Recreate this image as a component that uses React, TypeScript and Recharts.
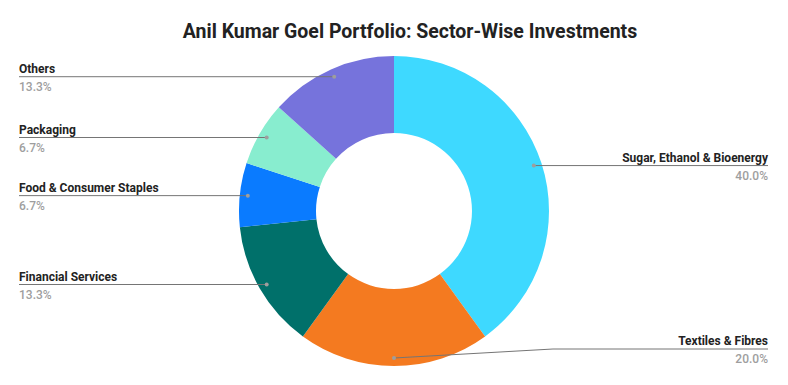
import React from 'react';
import { PieChart, Pie, Cell } from 'recharts';

const categories = [
  'Sugar, Ethanol & Bioenergy',
  'Textiles & Fibres',
  'Financial Services',
  'Food & Consumer Staples',
  'Packaging',
  'Others',
];
const holdings = [6, 3, 2, 1, 1, 2];
const colors = ['#3ED9FF', '#F47A20', '#00706A', '#0A7BFF', '#88EDCF', '#7673DC'];
const title = 'Anil Kumar Goel Portfolio: Sector-Wise Investments';

const data = categories.map((c, i) => ({ name: c, value: holdings[i] }));
const total = holdings.reduce((a, b) => a + b, 0);

const W = 788;
const H = 385;
const FONT = 'Roboto, "Noto Sans", Arial, sans-serif';

const renderLabel = (props: any) => {
  const { cx, cy, midAngle, outerRadius, index } = props;
  const RAD = Math.PI / 180;
  const r = outerRadius - 8;
  const cos = Math.cos(-midAngle * RAD);
  const sin = Math.sin(-midAngle * RAD);
  const px = cx + r * cos;
  const py = cy + r * sin;
  const right = cos > -0.01;
  const ly = Math.min(py, H - 36);
  const edgeX = right ? W - 20 : 19;
  const bendX = right ? cx + outerRadius + 4 : cx - outerRadius - 4;
  const pts =
    Math.abs(ly - py) < 0.5
      ? `${px},${py} ${edgeX},${ly}`
      : `${px},${py} ${bendX},${ly} ${edgeX},${ly}`;
  const pct = ((holdings[index] / total) * 100).toFixed(1) + '%';
  const anchor = right ? 'end' : 'start';
  return (
    <g key={`lbl-${index}`}>
      <polyline points={pts} fill="none" stroke="#757575" strokeWidth={1} />
      <circle cx={px} cy={py} r={2} fill="#9E9E9E" />
      <text x={edgeX} y={ly - 4} textAnchor={anchor} fontFamily={FONT} fontSize={12} fontWeight={700} fill="#222222">
        {categories[index]}
      </text>
      <text x={edgeX} y={ly + 14} textAnchor={anchor} fontFamily={FONT} fontSize={12} fontWeight={500} fill="#9E9E9E">
        {pct}
      </text>
    </g>
  );
};

export default function App() {
  return (
    <div style={{ position: 'absolute', left: 0, top: 0, width: W, height: H, background: '#fff' }}>
      <PieChart width={W} height={H} margin={{ top: 0, right: 0, bottom: 0, left: 0 }}>
        <text x={410} y={38} textAnchor="middle" fontFamily={FONT} fontSize={19.5} fontWeight={700} fill="#222222">
          {title}
        </text>
        <Pie
          data={data}
          dataKey="value"
          nameKey="name"
          cx={394}
          cy={211}
          innerRadius={78}
          outerRadius={155}
          startAngle={90}
          endAngle={-270}
          stroke="none"
          label={renderLabel}
          labelLine={false}
          isAnimationActive={false}
        >
          {data.map((d, i) => (
            <Cell key={d.name} fill={colors[i]} />
          ))}
        </Pie>
      </PieChart>
    </div>
  );
}
